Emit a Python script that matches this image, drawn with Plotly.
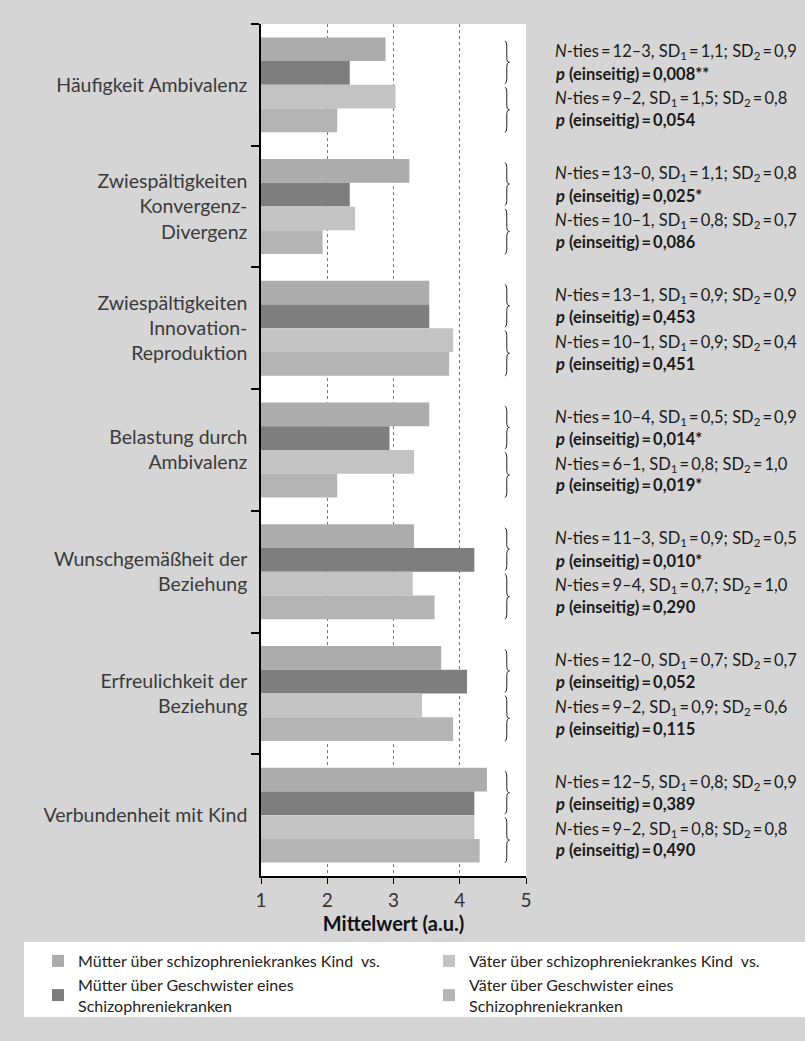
import plotly.graph_objects as go

categories = ["Häufigkeit Ambivalenz",
              "Zwiespältigkeiten<br>Konvergenz-<br>Divergenz",
              "Zwiespältigkeiten<br>Innovation-<br>Reproduktion",
              "Belastung durch<br>Ambivalenz",
              "Wunschgemäßheit der<br>Beziehung",
              "Erfreulichkeit der<br>Beziehung",
              "Verbundenheit mit Kind"]

series_names = ["Mütter über schizophreniekrankes Kind  vs.",
                "Mütter über Geschwister eines<br>Schizophreniekranken",
                "Väter über schizophreniekrankes Kind  vs.",
                "Väter über Geschwister eines<br>Schizophreniekranken"]

mutter_kind = [2.88, 3.24, 3.54, 3.54, 3.31, 3.72, 4.41]
mutter_geschw = [2.34, 2.34, 3.54, 2.94, 4.22, 4.11, 4.22]
vater_kind = [3.03, 2.42, 3.90, 3.31, 3.29, 3.43, 4.22]
vater_geschw = [2.15, 1.93, 3.84, 2.15, 3.62, 3.90, 4.30]

mutter_ties = ["12–3", "13–0", "13–1", "10–4", "11–3", "12–0", "12–5"]
mutter_sd1 = ["1,1", "1,1", "0,9", "0,5", "0,9", "0,7", "0,8"]
mutter_sd2 = ["0,9", "0,8", "0,9", "0,9", "0,5", "0,7", "0,9"]
mutter_p = ["0,008**", "0,025*", "0,453", "0,014*", "0,010*", "0,052", "0,389"]

vater_ties = ["9–2", "10–1", "10–1", "6–1", "9–4", "9–2", "9–2"]
vater_sd1 = ["1,5", "0,8", "0,9", "0,8", "0,7", "0,9", "0,8"]
vater_sd2 = ["0,8", "0,7", "0,4", "1,0", "1,0", "0,6", "0,8"]
vater_p = ["0,054", "0,086", "0,451", "0,019*", "0,290", "0,115", "0,490"]

x_ticks = [1, 2, 3, 4, 5]

colors = ["#acacac", "#7e7e7e", "#c3c3c3", "#b4b4b4"]
values = [mutter_kind, mutter_geschw, vater_kind, vater_geschw]
legends = ["legend", "legend", "legend2", "legend2"]

FONT = "Lato, 'Open Sans', sans-serif"
TS = "\u2009"  # thin space

fig = go.Figure()
for name, vals, col, lg in zip(series_names, values, colors, legends):
    fig.add_trace(go.Bar(y=categories, x=vals, orientation="h", name=name,
                         marker=dict(color=col, line=dict(width=0)),
                         legend=lg, hoverinfo="x+name"))

# plot geometry (px)
L, R, T, B = 261, 526, 24, 876
W, H = 805, 1041

def px_x(p):
    return (p - L) / (R - L)

def px_y(p):
    return (B - p) / (B - T)

shapes = []
# white legend box
shapes.append(dict(type="rect", xref="paper", yref="paper",
                   x0=px_x(24), x1=px_x(805), y0=px_y(942), y1=px_y(1017),
                   fillcolor="white", line=dict(width=0), layer="below"))

def brace(ya, yb, hx=4.68, sx=4.71, tx=4.75, r=0.04):
    ym = (ya + yb) / 2
    return (f"M {hx},{ya} Q {sx},{ya} {sx},{ya + r} L {sx},{ym - r} "
            f"Q {sx},{ym} {tx},{ym} Q {sx},{ym} {sx},{ym + r} "
            f"L {sx},{yb - r} Q {sx},{yb} {hx},{yb}")

def eq(s):
    return s.replace("=", TS + "=" + TS)

annotations = []
for i in range(len(categories)):
    shapes.append(dict(type="path", xref="x", yref="y", path=brace(i - 0.36, i - 0.01),
                       line=dict(color="#222", width=1)))
    shapes.append(dict(type="path", xref="x", yref="y", path=brace(i + 0.02, i + 0.39),
                       line=dict(color="#222", width=1)))
    lines = [
        (eq(f"<i>N</i>-ties={mutter_ties[i]}, SD<sub>1</sub>={mutter_sd1[i]}; SD<sub>2</sub>={mutter_sd2[i]}"), -0.27),
        (eq(f"<b><i>p</i> (einseitig)={mutter_p[i]}</b>"), -0.09),
        (eq(f"<i>N</i>-ties={vater_ties[i]}, SD<sub>1</sub>={vater_sd1[i]}; SD<sub>2</sub>={vater_sd2[i]}"), 0.115),
        (eq(f"<b><i>p</i> (einseitig)={vater_p[i]}</b>"), 0.29),
    ]
    for txt, off in lines:
        annotations.append(dict(text=txt, xref="paper", yref="y", x=px_x(553), y=i + off,
                                xanchor="left", yanchor="middle", showarrow=False,
                                font=dict(family=FONT, size=16.5, color="#1a1a1a")))

fig.update_layout(
    width=W, height=H,
    margin=dict(l=L, r=W - R, t=T, b=H - B, pad=0),
    paper_bgcolor="#d5d5d5", plot_bgcolor="white",
    barmode="group", bargap=0.22, bargroupgap=0,
    font=dict(family=FONT, color="#333"),
    shapes=shapes, annotations=annotations,
    legend=dict(x=px_x(38), y=px_y(944), xanchor="left", yanchor="top",
                bgcolor="rgba(0,0,0,0)", font=dict(size=16, color="#222"),
                orientation="v", tracegroupgap=0),
    legend2=dict(x=px_x(429), y=px_y(944), xanchor="left", yanchor="top",
                 bgcolor="rgba(0,0,0,0)", font=dict(size=16, color="#222"),
                 orientation="v", tracegroupgap=0),
    xaxis=dict(range=[1, 5], tickvals=x_ticks, ticktext=[str(t) for t in x_ticks],
               showline=True, linecolor="black", linewidth=1.5,
               ticks="outside", ticklen=6, tickwidth=1.2, tickcolor="black",
               showgrid=True, gridcolor="#777", griddash="dot", gridwidth=1,
               zeroline=False, tickfont=dict(size=19, color="#333"),
               title=dict(text="<b>Mittelwert (a.u.)</b>", standoff=4,
                          font=dict(size=20, color="#111"))),
    yaxis=dict(autorange="reversed", type="category",
               showline=True, linecolor="black", linewidth=1.5,
               ticks="outside", tickson="boundaries", ticklen=8, tickwidth=1.5,
               tickcolor="black", showgrid=False, ticklabelstandoff=8,
               tickfont=dict(size=19.5, color="#3a3a3a")),
)

fig.write_html("out.html", config={"displayModeBar": False},
               post_script="document.body.style.margin='0';document.body.style.overflow='hidden';")
